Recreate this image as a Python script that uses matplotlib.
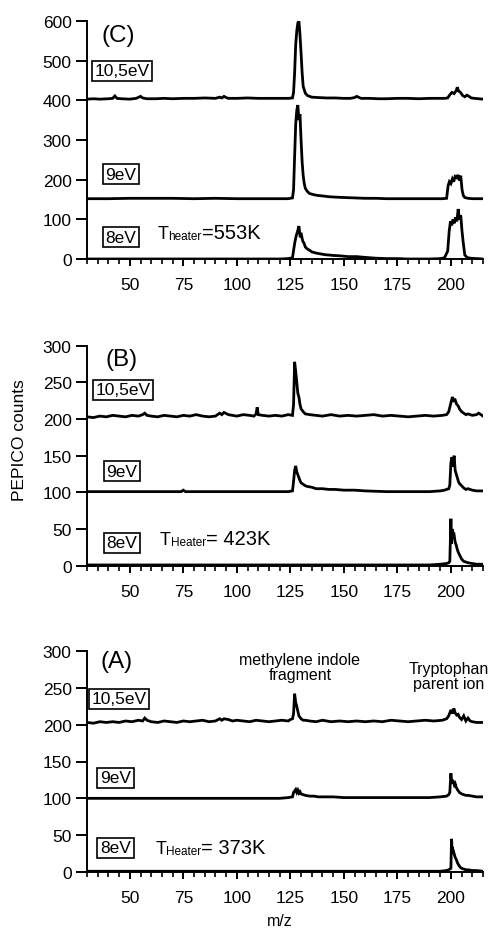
import matplotlib
matplotlib.use("Agg")
import matplotlib.pyplot as plt
from matplotlib.ticker import MultipleLocator

plt.rcParams['font.family'] = ['Liberation Sans', 'DejaVu Sans']

# ---- data (raw counts, each trace is shifted by its offset) ----
energies = ["10,5eV", "9eV", "8eV"]

# panel C, T = 553 K
C_105_mz = [30, 33, 36, 40, 42, 43, 44, 46, 50, 53, 55, 56, 58, 62, 66, 70, 75, 80, 85, 90, 92, 93, 94, 95, 96,
            100, 105, 110, 115, 120, 124, 126, 126.5, 127, 127.5, 128, 128.5, 129, 129.5, 130, 130.5, 131, 132,
            133, 135, 138, 142, 146, 150, 153, 155, 156, 158, 162, 166, 170, 175, 180, 185, 190, 195, 197, 198.5,
            199.5, 200.5, 201.5, 202.5, 203, 203.5, 204.5, 205.5, 206.5, 207.5, 208.5, 209.5, 211, 213, 215]
C_105_counts = [3, 4, 3, 4, 5, 11, 5, 4, 3, 5, 10, 6, 4, 4, 5, 4, 5, 5, 6, 5, 8, 6, 10, 7, 5,
                5, 6, 5, 5, 5, 5, 6, 20, 70, 140, 175, 195, 200, 165, 120, 70, 35, 18,
                12, 8, 7, 6, 6, 5, 5, 7, 10, 5, 5, 4, 4, 5, 5, 4, 5, 5, 5, 6,
                14, 20, 17, 25, 33, 24, 20, 12, 9, 13, 10, 6, 5, 4, 3]
C_9_mz = [30, 40, 50, 60, 70, 80, 90, 100, 110, 118, 124, 126, 126.5, 127, 127.5, 128, 128.5, 129, 129.5, 130,
          130.5, 131, 131.5, 132, 133, 134, 136, 138, 140, 143, 146, 150, 155, 160, 165, 170, 180, 190, 196, 198,
          198.7, 199.3, 200, 200.7, 201.3, 202, 202.7, 203.3, 204, 204.6, 205.2, 205.8, 206.5, 208, 210, 215]
C_9_counts = [2, 2, 3, 3, 3, 2, 3, 2, 2, 2, 2, 4, 25, 110, 190, 225, 238, 200, 215, 150,
              95, 60, 40, 28, 20, 15, 12, 10, 9, 7, 6, 5, 4, 3, 3, 2, 2, 2, 2, 3,
              35, 45, 40, 52, 45, 58, 55, 62, 48, 60, 25, 10, 5, 3, 2, 2]
C_8_mz = [30, 40, 50, 60, 70, 80, 90, 100, 110, 120, 124, 126, 126.6, 127.2, 127.8, 128.4, 129, 129.6, 130.2,
          130.8, 131.4, 132, 133, 134, 135, 137, 139, 141, 143, 145, 148, 152, 156, 160, 165, 170, 175, 180, 185,
          190, 195, 197, 198.5, 199.2, 199.8, 200.4, 201, 201.6, 202.2, 202.8, 203.4, 204, 204.6, 205.2, 205.8,
          206.5, 207.5, 209, 212, 215]
C_8_counts = [0, 0, 0, 0, 0, 0, 0, 0, 0, 0, 1, 3, 25, 45, 60, 70, 83, 55, 60,
              45, 40, 30, 25, 22, 18, 15, 13, 11, 10, 9, 8, 6, 6, 4, 2, 1, 1, 0, 0,
              0, 1, 3, 20, 70, 95, 85, 100, 90, 105, 95, 126, 100, 110, 70, 40,
              10, 4, 2, 1, 0]

# panel B, T = 423 K
B_105_mz = [30, 33, 36, 39, 42, 45, 48, 51, 54, 56, 57, 58, 60, 63, 66, 69, 72, 75, 78, 81, 84, 87, 90, 92, 93,
            94, 96, 98, 100, 103, 106, 108, 109, 109.5, 110, 112, 115, 118, 121, 124, 126, 126.5, 127, 127.5,
            128, 128.5, 129, 129.5, 130, 131, 132, 134, 137, 140, 144, 148, 152, 156, 160, 164, 168, 172, 176,
            180, 184, 188, 192, 196, 198, 199, 200, 200.7, 201.4, 202, 202.7, 203.4, 204, 205, 206, 207, 208,
            210, 212, 213, 215]
B_105_counts = [3, 2, 4, 3, 5, 4, 3, 5, 4, 6, 8, 5, 4, 3, 5, 4, 3, 5, 4, 6, 4, 3, 4, 8, 6,
                9, 6, 5, 4, 6, 5, 4, 7, 16, 6, 5, 4, 5, 4, 6, 5, 20, 78, 65,
                50, 35, 30, 20, 14, 10, 7, 6, 5, 4, 6, 4, 5, 4, 5, 6, 4, 5, 4,
                3, 4, 5, 4, 5, 6, 10, 22, 30, 25, 26, 20, 18, 14, 10, 8, 6, 7,
                5, 6, 8, 4]
B_9_mz = [30, 40, 50, 60, 70, 74, 75, 76, 80, 90, 100, 110, 120, 124, 126, 126.5, 127, 127.5, 128, 128.5, 129,
          129.5, 130, 131, 132, 133, 135, 137, 140, 143, 146, 150, 155, 160, 170, 180, 190, 195, 197, 198, 199,
          199.5, 200, 200.5, 201, 201.5, 202, 202.5, 203, 203.5, 204, 205, 206, 207, 208, 210, 212, 215]
B_9_counts = [1, 1, 1, 1, 1, 1, 3, 1, 1, 1, 1, 1, 1, 1, 2, 15, 30, 36, 28, 24, 20,
              16, 13, 11, 9, 8, 7, 5, 5, 4, 4, 3, 3, 2, 1, 1, 1, 2, 3, 4, 5,
              10, 40, 48, 35, 50, 30, 25, 20, 15, 12, 9, 6, 4, 5, 3, 2, 2]
B_8_mz = [30, 40, 50, 60, 70, 80, 90, 100, 110, 120, 130, 140, 150, 160, 170, 180, 190, 195, 198, 199, 199.5,
          200, 200.3, 200.6, 201, 201.5, 202, 202.5, 203, 203.5, 204, 204.5, 205, 206, 207, 208, 210, 212, 215]
B_8_counts = [1, 1, 1, 1, 1, 1, 1, 1, 1, 1, 1, 1, 1, 1, 1, 1, 1, 2, 3, 4, 6,
              64, 30, 50, 40, 42, 32, 28, 22, 18, 15, 12, 9, 6, 5, 4, 3, 2, 2]

# panel A, T = 373 K
A_105_mz = [30, 33, 36, 39, 42, 45, 48, 51, 54, 56, 57, 58, 60, 63, 66, 69, 72, 75, 78, 81, 84, 87, 90, 92, 93,
            94, 96, 98, 100, 103, 106, 109, 112, 115, 118, 121, 124, 125, 126, 126.5, 127, 127.5, 128, 128.5,
            129, 130, 131, 132, 134, 137, 140, 144, 148, 152, 156, 160, 164, 168, 172, 176, 180, 184, 188, 192,
            196, 198, 199, 200, 200.7, 201.4, 202, 202.7, 203.4, 204, 205, 206, 207, 208, 209, 210, 212, 215]
A_105_counts = [3, 2, 4, 3, 4, 3, 5, 4, 6, 5, 9, 6, 4, 3, 5, 4, 3, 5, 4, 5, 6, 4, 5, 8, 6,
                8, 7, 5, 6, 5, 4, 6, 5, 4, 5, 6, 5, 7, 8, 15, 42, 30, 25, 18,
                12, 8, 6, 6, 5, 4, 6, 4, 5, 4, 5, 4, 5, 4, 6, 5, 4, 5, 6, 5,
                6, 8, 12, 20, 15, 22, 16, 13, 14, 10, 7, 12, 5, 9, 5, 4, 3, 3]
A_9_mz = [30, 40, 50, 60, 70, 80, 90, 100, 110, 120, 124, 126, 126.5, 127, 127.5, 128, 128.5, 129, 129.5, 130,
          131, 132, 134, 136, 138, 140, 145, 150, 160, 170, 180, 190, 195, 198, 199, 199.5, 200, 200.4, 200.8,
          201.2, 201.6, 202, 202.5, 203, 203.5, 204, 205, 206, 207, 208, 210, 212, 215]
A_9_counts = [0, 0, 0, 0, 0, 0, 0, 0, 0, 0, 1, 2, 8, 10, 12, 8, 11, 7, 9, 6,
              5, 4, 3, 3, 2, 2, 2, 1, 1, 1, 1, 1, 2, 3, 5, 8, 34, 20, 25,
              22, 18, 20, 15, 12, 10, 8, 6, 5, 4, 4, 3, 2, 2]
A_8_mz = [30, 40, 50, 60, 70, 80, 90, 100, 110, 120, 130, 140, 150, 160, 170, 180, 190, 195, 198, 199, 200,
          200.3, 200.6, 201, 201.5, 202, 202.5, 203, 203.5, 204, 204.5, 205, 206, 207, 208, 210, 212, 215]
A_8_counts = [1, 1, 1, 1, 1, 1, 1, 1, 1, 1, 1, 1, 1, 1, 1, 1, 1, 1, 2, 3, 5,
              45, 28, 30, 25, 20, 17, 13, 10, 8, 6, 5, 4, 3, 3, 2, 2, 1]

C_offsets = [400, 150, 0]
B_offsets = [200, 100, 0]
A_offsets = [200, 100, 0]

fig = plt.figure(figsize=(4.94, 9.29), dpi=100)

W = 494.0
H = 929.0


def make_axes(top_px, bottom_px):
    left = 87 / W
    width = (483 - 87) / W
    return fig.add_axes([left, 1 - bottom_px / H, width, (bottom_px - top_px) / H])


def style_axes(ax, ymax, ystep):
    ax.set_xlim(30, 215)
    ax.set_ylim(0, ymax)
    for s in ["top", "right"]:
        ax.spines[s].set_visible(False)
    for s in ["left", "bottom"]:
        ax.spines[s].set_linewidth(1.4)
    ax.xaxis.set_major_locator(MultipleLocator(25))
    ax.xaxis.set_minor_locator(MultipleLocator(5))
    ax.yaxis.set_major_locator(MultipleLocator(ystep))
    ax.tick_params(axis="x", which="major", direction="out", length=5, width=1.4, pad=8, labelsize=12.5)
    ax.tick_params(axis="x", which="minor", direction="out", length=3.5, width=1.2)
    ax.tick_params(axis="y", which="major", direction="out", length=8, width=1.4, pad=3, labelsize=12.5)
    ax.set_xticks([50, 75, 100, 125, 150, 175, 200])


def draw_traces(ax, traces, offsets):
    for (mz, counts), off in zip(traces, offsets):
        ax.plot(mz, [c + off for c in counts], color="black", lw=2.0, solid_joinstyle="miter")


def energy_box(ax, x, y, label):
    ax.text(x, y, label, ha="center", va="center", fontsize=12.5,
            bbox=dict(boxstyle="square,pad=0.15", fc="white", ec="black", lw=1.2))


def theater(ax, x, y, sub, rest):
    t1 = ax.text(x, y, "T", fontsize=13, va="bottom")
    t2 = ax.annotate(sub, xy=(1, 0), xycoords=t1, fontsize=8.5, va="bottom")
    ax.annotate(rest, xy=(1, 0), xycoords=t2, fontsize=14.5, va="bottom")


# ---- panel C ----
axC = make_axes(22, 260)
style_axes(axC, 600, 100)
draw_traces(axC, [(C_105_mz, C_105_counts), (C_9_mz, C_9_counts), (C_8_mz, C_8_counts)], C_offsets)
axC.text(44.5, 565, "(C)", ha="center", va="center", fontsize=17.5)
energy_box(axC, 46.3, 474, energies[0])
energy_box(axC, 45.8, 214, energies[1])
energy_box(axC, 45.8, 55, energies[2])
theater(axC, 63, 42, "heater", "=553K")

# ---- panel B ----
axB = make_axes(346.7, 566.7)
style_axes(axB, 300, 50)
draw_traces(axB, [(B_105_mz, B_105_counts), (B_9_mz, B_9_counts), (B_8_mz, B_8_counts)], B_offsets)
axB.text(46, 282, "(B)", ha="center", va="center", fontsize=17.5)
energy_box(axB, 46.8, 240, energies[0])
energy_box(axB, 46.3, 129, energies[1])
energy_box(axB, 46.3, 31, energies[2])
theater(axB, 64, 24, "Heater", "= 423K")

# ---- panel A ----
axA = make_axes(652, 873)
style_axes(axA, 300, 50)
draw_traces(axA, [(A_105_mz, A_105_counts), (A_9_mz, A_9_counts), (A_8_mz, A_8_counts)], A_offsets)
axA.text(43.6, 286, "(A)", ha="center", va="center", fontsize=17.5)
energy_box(axA, 44.9, 235, energies[0])
energy_box(axA, 43.3, 128, energies[1])
energy_box(axA, 43.3, 32.6, energies[2])
theater(axA, 62, 20, "Heater", "= 373K")
axA.text(129.5, 299, "methylene indole\nfragment", ha="center", va="top", fontsize=11.5, linespacing=1.0)
axA.text(199, 287, "Tryptophan\nparent ion", ha="center", va="top", fontsize=11.5, linespacing=1.0)

fig.text(20 / W, 1 - 440 / H, "PEPICO counts", rotation=90, ha="center", va="center", fontsize=12.5)
fig.text(280 / W, 1 - 922 / H, "m/z", ha="center", va="center", fontsize=11.5)

fig.savefig("out.png", dpi=100)
